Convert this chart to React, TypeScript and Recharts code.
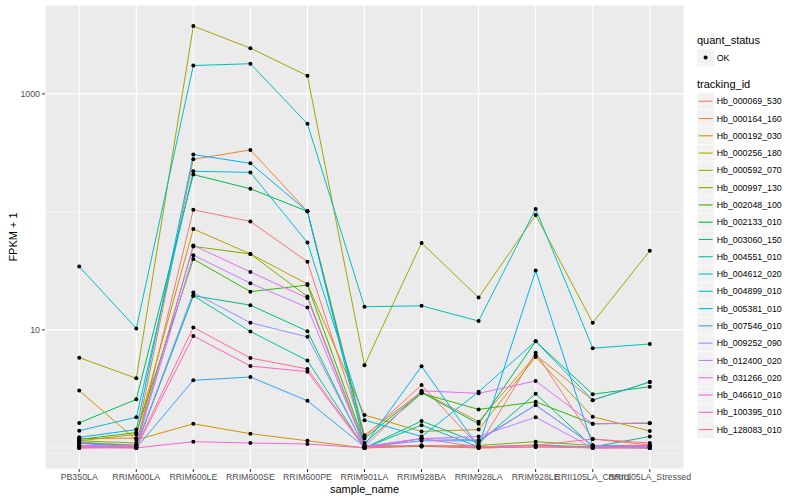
import React from 'react';
import { LineChart, Line, XAxis, YAxis, CartesianGrid, ReferenceLine } from 'recharts';

// sample names on the x axis
const categories = [
  'PB350LA', 'RRIM600LA', 'RRIM600LE', 'RRIM600SE', 'RRIM600PE', 'RRIM901LA',
  'RRIM928BA', 'RRIM928LA', 'RRIM928LE', 'RRII105LA_Control', 'RRII105LA_Stressed',
];

const trackingIds = [
  'Hb_000069_530', 'Hb_000164_160', 'Hb_000192_030', 'Hb_000256_180', 'Hb_000592_070',
  'Hb_000997_130', 'Hb_002048_100', 'Hb_002133_010', 'Hb_003060_150', 'Hb_004551_010',
  'Hb_004612_020', 'Hb_004899_010', 'Hb_005381_010', 'Hb_007546_010', 'Hb_009252_090',
  'Hb_012400_020', 'Hb_031266_020', 'Hb_046610_010', 'Hb_100395_010', 'Hb_128083_010',
];

// ggplot hue palette, 20 levels
const hueColors = [
  '#F8766D', '#EA8331', '#D89000', '#C09B00', '#A3A500', '#7CAE00', '#39B600', '#00BB4E',
  '#00BF7D', '#00C1A3', '#00BFC4', '#00BAE0', '#00B0F6', '#35A2FF', '#9590FF', '#C77CFF',
  '#E76BF3', '#FA62DB', '#FF62BC', '#FF6C91',
];

// FPKM + 1, one value per sample
const hb000069_530 = [1.12, 1.05, 104, 83, 37.8, 1.24, 3.41, 1.03, 6.4, 1.19, 1.06];
const hb000164_160 = [1.2, 1.21, 279, 335, 101, 1.28, 3.0, 1.67, 6.1, 2.54, 3.62];
const hb000192_030 = [3.06, 1.17, 1.6, 1.32, 1.15, 1.0, 1.03, 1.0, 1.02, 1.0, 1.0];
const hb000256_180 = [1.15, 1.3, 71.6, 44, 24.5, 1.9, 1.38, 1.43, 5.9, 1.84, 1.39];
const hb000592_070 = [5.82, 3.89, 3750, 2440, 1422, 5.02, 54.6, 18.8, 94, 11.5, 46.8];
const hb000997_130 = [1.15, 1.1, 51, 44, 19.2, 1.05, 1.03, 1.05, 1.13, 1.05, 1.05];
const hb002048_100 = [1.18, 1.35, 39.8, 21.1, 24, 1.1, 2.9, 2.12, 2.46, 1.6, 1.62];
const hb002133_010 = [1.63, 2.58, 207, 157, 101, 1.2, 2.95, 1.6, 8.0, 2.85, 3.3];
const hb003060_150 = [1.1, 1.05, 19.5, 16.2, 9.75, 1.0, 1.69, 1.1, 2.88, 1.02, 1.25];
const hb004551_010 = [1.05, 1.02, 19.5, 9.7, 5.5, 1.0, 1.56, 1.02, 1.06, 1.02, 1.0];
const hb004612_020 = [34.4, 10.3, 1738, 1800, 557, 15.7, 16.0, 11.9, 106, 7.0, 7.6];
const hb004899_010 = [1.4, 1.82, 221, 216, 55, 1.72, 1.25, 2.99, 8.0, 2.54, 3.62];
const hb005381_010 = [1.23, 1.43, 306, 258, 101, 1.05, 4.92, 1.02, 31.8, 1.05, 1.02];
const hb007546_010 = [1.1, 1.0, 3.74, 3.99, 2.51, 1.02, 1.15, 1.15, 2.31, 1.05, 1.0];
const hb009252_090 = [1.05, 1.02, 20.7, 11.5, 8.73, 1.02, 1.2, 1.17, 2.31, 1.05, 1.02];
const hb012400_020 = [1.05, 1.05, 43, 24.9, 15.5, 1.03, 1.2, 1.25, 1.82, 1.0, 1.02];
const hb031266_020 = [1.02, 1.05, 52, 31, 18.6, 1.02, 3.05, 2.9, 3.69, 1.6, 1.63];
const hb046610_010 = [1.0, 1.0, 1.13, 1.1, 1.08, 1.0, 1.2, 1.02, 1.05, 1.0, 1.0];
const hb100395_010 = [1.02, 1.0, 8.9, 4.94, 4.43, 1.0, 1.05, 1.0, 1.02, 1.02, 1.05];
const hb128083_010 = [1.0, 1.02, 10.5, 5.78, 4.67, 1.02, 1.05, 1.02, 1.05, 1.19, 1.1];

const seriesValues = [
  hb000069_530, hb000164_160, hb000192_030, hb000256_180, hb000592_070,
  hb000997_130, hb002048_100, hb002133_010, hb003060_150, hb004551_010,
  hb004612_020, hb004899_010, hb005381_010, hb007546_010, hb009252_090,
  hb012400_020, hb031266_020, hb046610_010, hb100395_010, hb128083_010,
];

const yTicks = [10, 1000];
const yMinor = [1, 100];

// table for recharts: one row per sample
const rows = categories.map((name, i) => {
  const row: Record<string, number | string> = { idx: i, name };
  trackingIds.forEach((id, s) => {
    row[id] = seriesValues[s][i];
  });
  return row;
});

const xTicks = categories.map((_, i) => i);
const font = '"Liberation Sans", Arial, Helvetica, sans-serif';

const Legend = () => (
  <svg width={800} height={500} style={{ position: 'absolute', left: 0, top: 0, pointerEvents: 'none' }}>
    <text transform="translate(13,237) rotate(-90)" textAnchor="middle" dominantBaseline="central" fontSize={11} fill="#000">
      FPKM + 1
    </text>
    <text x={364.5} y={492.5} textAnchor="middle" fontSize={11} fill="#000">sample_name</text>

    <text x={697} y={44} fontSize={11} fill="#000">quant_status</text>
    <rect x={697} y={49} width={17.3} height={17.3} fill="#F2F2F2" stroke="#fff" strokeWidth={0.5} />
    <circle cx={705.6} cy={57.6} r={2} fill="#000" />
    <text x={716.7} y={60.7} fontSize={8.8} fill="#000">OK</text>

    <text x={697} y={88} fontSize={11} fill="#000">tracking_id</text>
    {trackingIds.map((id, i) => {
      const top = 92.6 + i * 17.28;
      return (
        <g key={id}>
          <rect x={697} y={top} width={17.3} height={17.28} fill="#F2F2F2" stroke="#fff" strokeWidth={0.5} />
          <line x1={698.7} x2={712.6} y1={top + 8.64} y2={top + 8.64} stroke={hueColors[i]} strokeWidth={1.1} />
          <text x={716.7} y={top + 11.7} fontSize={8.8} fill="#000">{id}</text>
        </g>
      );
    })}
  </svg>
);

export default function App() {
  return (
    <div style={{ position: 'absolute', left: 0, top: 0, width: 800, height: 500, background: '#fff', fontFamily: font }}>
      <LineChart width={800} height={500} data={rows} margin={{ top: 5, right: 116, bottom: 0, left: 0 }}>
        <CartesianGrid fill="#EBEBEB" stroke="#FFFFFF" strokeWidth={1.1} />
        <XAxis
          dataKey="idx"
          type="number"
          domain={[-0.6, 10.6]}
          ticks={xTicks}
          interval={0}
          tickFormatter={(i: number) => categories[i]}
          axisLine={false}
          tickSize={3}
          tickMargin={2}
          tickLine={{ stroke: '#333333' }}
          tick={{ fill: '#4D4D4D', fontSize: 8.8 }}
          height={31}
        />
        <YAxis
          type="number"
          scale="log"
          domain={[0.663, 5660]}
          ticks={yTicks}
          allowDataOverflow
          axisLine={false}
          tickSize={3}
          tickMargin={2}
          tickLine={{ stroke: '#333333' }}
          tick={{ fill: '#4D4D4D', fontSize: 8.8 }}
          width={45}
        />
        {yMinor.map((v) => (
          <ReferenceLine key={v} y={v} stroke="#FFFFFF" strokeWidth={0.55} />
        ))}
        {trackingIds.map((id, i) => (
          <Line
            key={id}
            dataKey={id}
            type="linear"
            stroke={hueColors[i]}
            strokeWidth={1}
            dot={false}
            activeDot={false}
            isAnimationActive={false}
          />
        ))}
        {trackingIds.map((id) => (
          <Line
            key={id + '_pt'}
            dataKey={id}
            type="linear"
            stroke="none"
            dot={{ r: 2, fill: '#000', stroke: 'none' }}
            activeDot={false}
            isAnimationActive={false}
          />
        ))}
      </LineChart>
      <Legend />
    </div>
  );
}
